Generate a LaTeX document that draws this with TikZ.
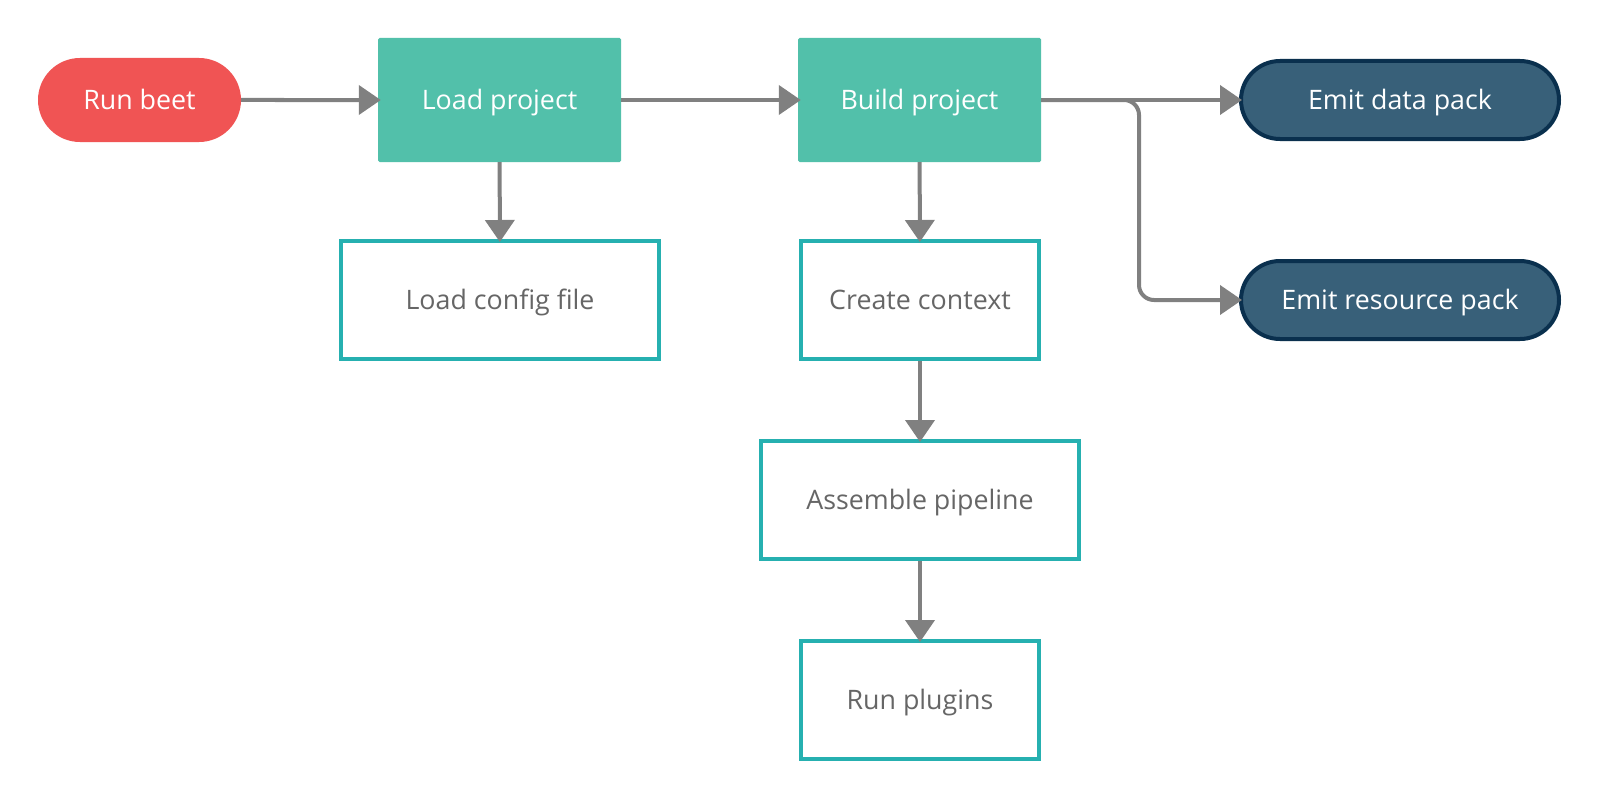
\documentclass[tikz,border=0pt]{standalone}
\usepackage{fontspec}
\setmainfont{Open Sans}
\usetikzlibrary{arrows.meta,shapes.misc}
\definecolor{redc}{RGB}{240,84,84}
\definecolor{tealfill}{RGB}{82,192,170}
\definecolor{tealline}{RGB}{38,176,176}
\definecolor{darkfill}{RGB}{56,96,121}
\definecolor{darkline}{RGB}{10,48,78}
\definecolor{arrowgray}{RGB}{128,128,128}
\definecolor{textgray}{RGB}{102,102,102}
\begin{document}
\begin{tikzpicture}[x=1pt,y=1pt,
  base/.style={font=\fontsize{26.8}{32}\selectfont, inner sep=0pt, align=center, text height=19pt, text depth=0pt},
  terminal/.style={base, rounded rectangle, fill=redc, text=white, minimum width=203pt, minimum height=84pt},
  process/.style={base, rectangle, rounded corners=1.5pt, fill=tealfill, text=white, minimum width=243pt, minimum height=124pt},
  sub/.style={base, rectangle, draw=tealline, line width=4pt, fill=white, text=textgray, minimum height=118pt},
  emit/.style={base, rounded rectangle, draw=darkline, line width=4pt, fill=darkfill, text=white, minimum width=318pt, minimum height=78pt},
  flow/.style={draw=arrowgray, line width=4pt, line join=round, shorten >=-3pt, -{Triangle[length=22pt,width=29pt]}},
]
\useasboundingbox (0,0) rectangle (1600,-800);
\fill[white] (0,0) rectangle (1600,-800);

\node[terminal] (run) at (139.5,-100) {Run beet};
\node[process] (load) at (499.5,-100) {Load project};
\node[process] (build) at (919.5,-100) {Build project};
\node[sub, minimum width=318pt] (cfg) at (500,-300) {Load config file};
\node[sub, minimum width=238pt] (ctx) at (920,-300) {Create context};
\node[sub, minimum width=318pt] (asm) at (920,-500) {Assemble pipeline};
\node[sub, minimum width=238pt] (plug) at (920,-700) {Run plugins};
\node[emit] (data) at (1400,-100) {Emit data pack};
\node[emit] (res) at (1400,-300) {Emit resource pack};

\coordinate (split) at (1139,-100);

\draw[flow] (run) -- (load);
\draw[flow] (load) -- (build);
\draw[flow] (load) -- (cfg);
\draw[flow] (build) -- (ctx);
\draw[flow] (ctx) -- (asm);
\draw[flow] (asm) -- (plug);
\draw[flow] (build) -- (data);
\draw[flow, rounded corners=15pt] (build.east) -- (split) |- (res);
\end{tikzpicture}
\end{document}
